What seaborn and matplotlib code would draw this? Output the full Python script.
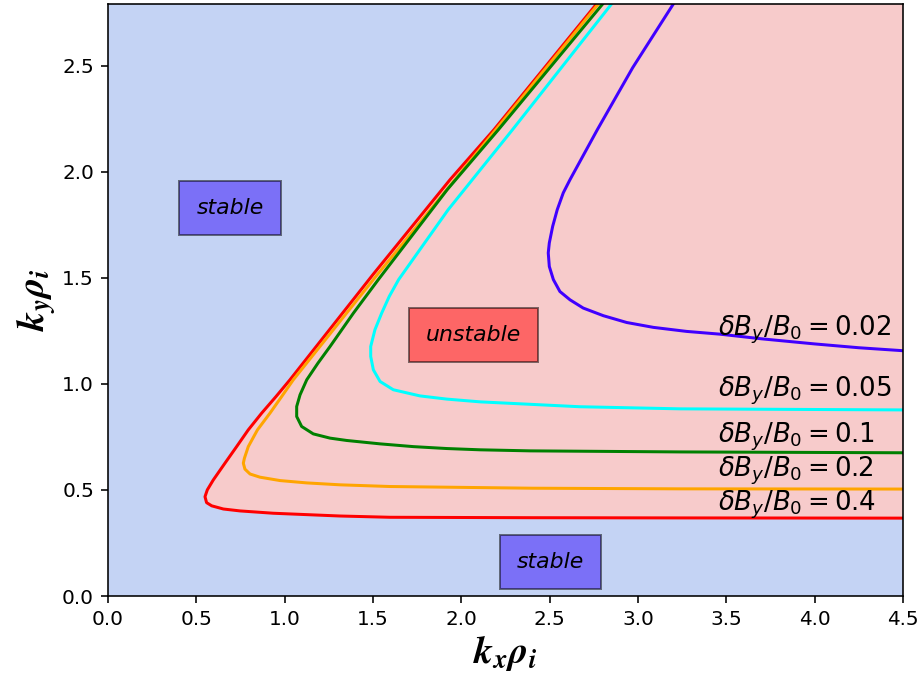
import numpy as np
import pandas as pd
import matplotlib
matplotlib.use("Agg")
import matplotlib.pyplot as plt
import seaborn as sns

# Marginal-stability curves in the (k_x rho_i, k_y rho_i) plane, one per dB_y/B_0
amplitudes = [0.4, 0.2, 0.1, 0.05, 0.02]
line_colors = ["red", "orange", "green", "cyan", "#4000ff"]

kx_040 = [2.765, 2.185, 1.936, 1.50, 1.030, 0.951, 0.870, 0.794, 0.728, 0.662, 0.596,
          0.562, 0.549, 0.558, 0.587, 0.653, 0.747, 0.936, 1.313, 1.596, 2.40, 3.24, 4.50]
ky_040 = [2.790, 2.198, 1.962, 1.515, 1.019, 0.940, 0.862, 0.783, 0.704, 0.626, 0.547,
          0.500, 0.468, 0.440, 0.425, 0.410, 0.401, 0.390, 0.377, 0.371, 0.369, 0.368, 0.367]

kx_020 = [2.775, 2.195, 1.52, 1.049, 0.983, 0.917, 0.846, 0.794, 0.772, 0.766, 0.775,
          0.804, 0.860, 0.974, 1.125, 1.313, 1.596, 2.40, 3.24, 4.50]
ky_020 = [2.790, 2.198, 1.51, 1.019, 0.940, 0.862, 0.783, 0.704, 0.649, 0.626, 0.598,
          0.575, 0.560, 0.544, 0.533, 0.524, 0.516, 0.508, 0.505, 0.504]

kx_010 = [2.80, 2.21, 1.92, 1.530, 1.389, 1.257, 1.188, 1.125, 1.087, 1.068, 1.068,
          1.096, 1.162, 1.257, 1.351, 1.540, 1.728, 1.917, 2.106, 2.39, 3.24, 4.50]
ky_010 = [2.790, 2.198, 1.915, 1.491, 1.333, 1.176, 1.097, 1.019, 0.948, 0.893, 0.846,
          0.799, 0.764, 0.744, 0.733, 0.717, 0.704, 0.695, 0.689, 0.684, 0.679, 0.675]

kx_005 = [2.85, 2.29, 1.925, 1.645, 1.592, 1.549, 1.511, 1.487, 1.487, 1.502, 1.540,
          1.615, 1.766, 1.917, 2.106, 2.67, 3.24, 4.50]
ky_005 = [2.790, 2.198, 1.82, 1.491, 1.412, 1.333, 1.255, 1.176, 1.129, 1.066, 1.011,
          0.972, 0.943, 0.928, 0.915, 0.892, 0.882, 0.877]

kx_002 = [3.20, 2.97, 2.77, 2.615, 2.577, 2.543, 2.517, 2.498, 2.492, 2.498, 2.521,
          2.558, 2.615, 2.690, 2.804, 2.936, 3.087, 3.275, 3.464, 3.70, 4.00, 4.25, 4.50]
ky_002 = [2.790, 2.490, 2.198, 1.962, 1.900, 1.821, 1.742, 1.664, 1.617, 1.553, 1.491,
          1.435, 1.396, 1.357, 1.321, 1.289, 1.266, 1.247, 1.234, 1.212, 1.188, 1.170, 1.156]

curves = [(kx_040, ky_040), (kx_020, ky_020), (kx_010, ky_010),
          (kx_005, ky_005), (kx_002, ky_002)]

# label anchors (left edge, baseline) for each curve
label_x = 3.45
label_y = [0.402, 0.563, 0.723, 0.940, 1.226]
label_text = ["0.4", "0.2", "0.1", "0.05", "0.02"]

x_lim = (0.0, 4.5)
y_lim = (0.0, 2.79)

frames = []
for amp, (kx, ky) in zip(amplitudes, curves):
    frames.append(pd.DataFrame({"kx": kx, "ky": ky, "amp": str(amp)}))
df = pd.concat(frames, ignore_index=True)

dpi = 144
fig = plt.figure(figsize=(923 / dpi, 677 / dpi), dpi=dpi)
ax = fig.add_axes([108 / 923, 81 / 677, 795 / 923, 592 / 677])

stable_bg = "#c4d3f4"
unstable_bg = "#f7cbcb"
ax.set_facecolor(stable_bg)

# unstable region: everything to the right of the dB_y/B_0 = 0.4 curve
ax.fill(np.r_[kx_040, x_lim[1], x_lim[1]], np.r_[ky_040, y_lim[1], y_lim[1]],
        color=unstable_bg, lw=0, zorder=1)

sns.lineplot(data=df, x="kx", y="ky", hue="amp",
             hue_order=[str(a) for a in amplitudes],
             palette=line_colors, sort=False, estimator=None,
             linewidth=1.5, legend=False, ax=ax, zorder=2)

for ly, lt in zip(label_y, label_text):
    ax.text(label_x, ly, r"$\delta B_y/B_0 = %s$" % lt, fontsize=13,
            ha="left", va="baseline", zorder=3)

stable_box = dict(facecolor="#7b70f7", edgecolor=(0, 0, 0, 0.5), pad=8.5)
unstable_box = dict(facecolor="#fd6666", edgecolor=(0, 0, 0, 0.5), pad=8.5)
ax.text(0.5, 1.8, "stable", style="italic", fontsize=11, bbox=stable_box, zorder=4)
ax.text(2.315, 0.134, "stable", style="italic", fontsize=11, bbox=stable_box, zorder=4)
ax.text(1.8, 1.2, "unstable", style="italic", fontsize=11, bbox=unstable_box, zorder=4)

ax.set_xlim(*x_lim)
ax.set_ylim(*y_lim)
ax.set_xticks(np.arange(0, 4.51, 0.5))
ax.set_yticks(np.arange(0, 2.51, 0.5))
ax.set_xlabel(r"$\mathbfit{k_x\rho_i}$", fontsize=19, math_fontfamily="stix",
              labelpad=2)
ax.set_ylabel(r"$\mathbfit{k_y\rho_i}$", fontsize=19, math_fontfamily="stix",
              labelpad=2)

fig.savefig("out.png", dpi=dpi)
